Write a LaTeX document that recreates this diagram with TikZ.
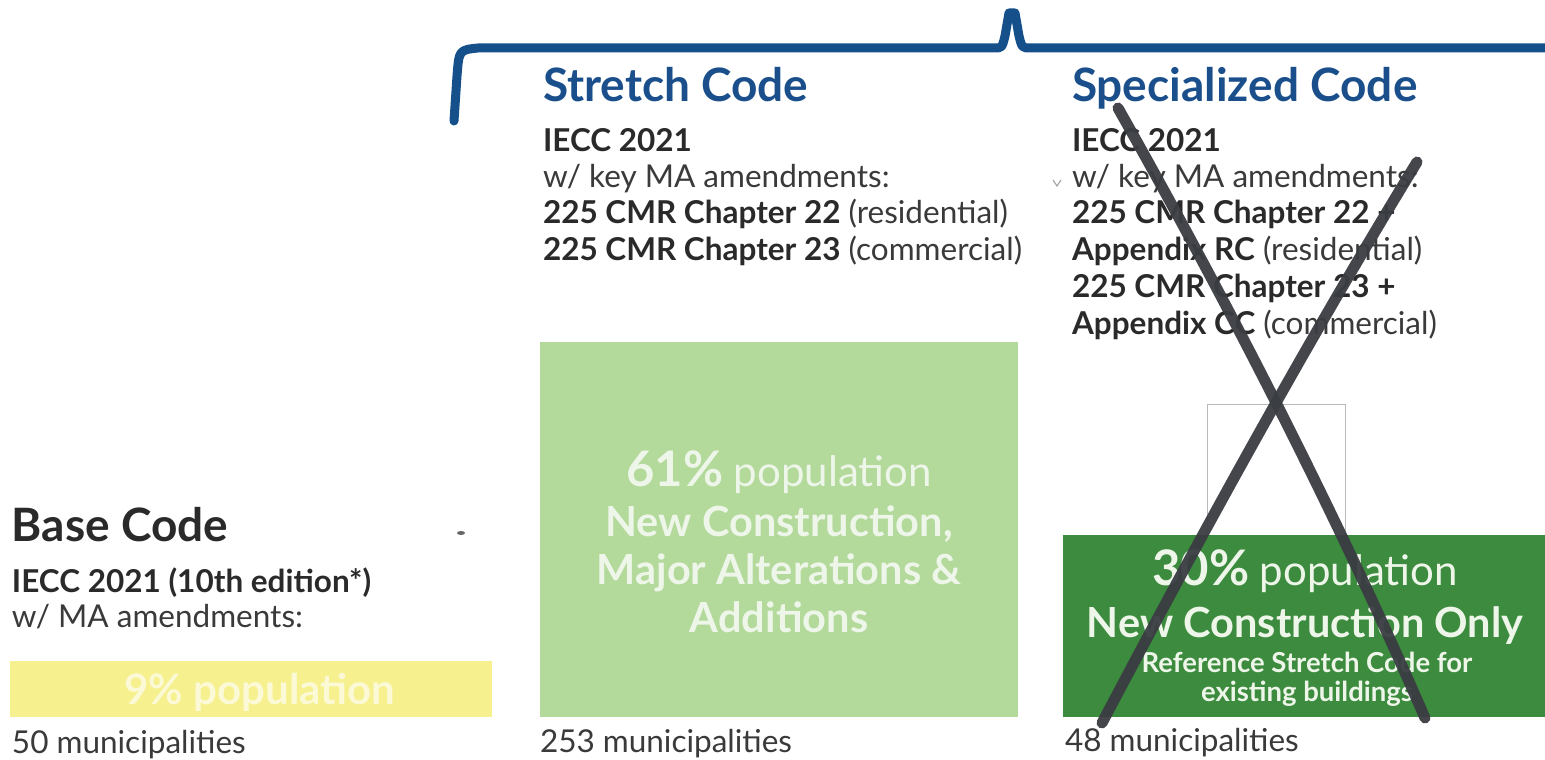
\documentclass[tikz,border=0pt]{standalone}
\usepackage{fontspec}
\setmainfont{Lato}
\definecolor{braceblue}{HTML}{15508A}
\definecolor{headblue}{HTML}{1A4F8B}
\definecolor{ink}{HTML}{2A2A2A}
\definecolor{inkreg}{HTML}{3A3A3A}
\definecolor{stretchgreen}{HTML}{B3D99B}
\definecolor{specgreen}{HTML}{3C8B3E}
\definecolor{baseyellow}{HTML}{F6F18E}
\definecolor{boxtext}{HTML}{EEF6EA}
\definecolor{yellowtext}{HTML}{FCF9D6}
\definecolor{crossgray}{HTML}{3A3D42}
\begin{document}
\begin{tikzpicture}[x=1pt,y=-1pt,
  every node/.style={inner sep=0pt,outer sep=0pt},
  heading/.style={anchor=base west,font=\fontsize{46}{46}\selectfont\bfseries},
  boldline/.style={anchor=base west,text=ink,font=\fontsize{31.5}{31.5}\selectfont\bfseries},
  regline/.style={anchor=base west,text=inkreg,font=\fontsize{31.5}{31.5}\selectfont},
  barbox/.style={anchor=north west,minimum width=#1},
  inbox/.style={anchor=base,text=boxtext},
  bigbold/.style={inbox,font=\fontsize{41.5}{41.5}\selectfont\bfseries},
  smallbold/.style={inbox,font=\fontsize{27.5}{27.5}\selectfont\bfseries},
  bracepath/.style={draw=braceblue,line width=9pt,line join=round,line cap=round},
  crossstroke/.style={draw=crossgray,line width=11pt,line cap=round,opacity=0.95}]
\useasboundingbox (0,0) rectangle (1545,760);
\fill[white] (0,0) rectangle (1545,760);

% brace over the two optional codes
\draw[bracepath] (454,121) -- (457,76) .. controls (459,50) .. (478,48)
  -- (994,48) .. controls (1002,48) .. (1005,36) -- (1009,13) -- (1015,13)
  -- (1019,36) .. controls (1022,48) .. (1031,48) -- (1550,48);

% ---------- Base Code ----------
\node[heading,text=ink] (basehead) at (12,541) {Base Code};
\node[boldline] (baseiecc) at (12,592) {IECC 2021 (10th edition*)};
\node[regline] (baseamend) at (12,627) {w/ MA amendments:};
\node[barbox=482,minimum height=56,fill=baseyellow] (basebox) at (10,661) {};
\node[anchor=base,text=yellowtext,font=\fontsize{42}{42}\selectfont\bfseries] (basepct) at (260,704) {9\% population};
\node[regline] (basemuni) at (12,753) {50 municipalities};

% ---------- Stretch Code ----------
\node[heading,text=headblue] (strhead) at (543,101) {Stretch Code};
\node[boldline] (striecc) at (543,151) {IECC 2021};
\node[regline] (stramend) at (543,187) {w/ key MA amendments:};
\node[regline] (strres) at (543,223) {\textbf{\color{ink}225 CMR Chapter 22} (residential)};
\node[regline] (strcom) at (543,260) {\textbf{\color{ink}225 CMR Chapter 23} (commercial)};
\node[barbox=478,minimum height=375,fill=stretchgreen] (strbox) at (540,342) {};
\node[inbox,font=\fontsize{42}{42}\selectfont] (strpct) at (779,486) {{\fontsize{49}{49}\selectfont\bfseries 61\%} population};
\node[bigbold] (strl1) at (779,536) {New Construction,};
\node[bigbold] (strl2) at (779,584) {Major Alterations \&};
\node[bigbold] (strl3) at (779,632) {Additions};
\node[regline] (strmuni) at (540,752) {253 municipalities};

% ---------- Specialized Code ----------
\node[heading,text=headblue] (spechead) at (1072,101) {Specialized Code};
\node[boldline] (speciecc) at (1072,151) {IECC 2021};
\node[regline] (specamend) at (1072,187) {w/ key MA amendments:};
\node[boldline] (specl1) at (1072,223) {225 CMR Chapter 22 +};
\node[regline] (specl2) at (1072,260) {\textbf{\color{ink}Appendix RC} (residential)};
\node[boldline] (specl3) at (1072,297) {225 CMR Chapter 23 +};
\node[regline] (specl4) at (1072,334) {\textbf{\color{ink}Appendix CC} (commercial)};
\node[anchor=north west,minimum width=138,minimum height=131,draw=gray!55,line width=0.8pt] (specframe) at (1207,404) {};
\node[barbox=482,minimum height=182,fill=specgreen] (specbox) at (1063,535) {};
\node[inbox,font=\fontsize{42}{42}\selectfont] (specpct) at (1305,585) {{\fontsize{49}{49}\selectfont\bfseries 30\%} population};
\node[bigbold] (specl5) at (1305,637) {New Construction Only};
\node[smallbold] (specl6) at (1307,672) {Reference Stretch Code for};
\node[smallbold] (specl7) at (1307,701) {existing buildings};
\node[regline] (specmuni) at (1065,751) {48 municipalities};

% small pen marks
\draw[gray!70,line width=1.2pt] (1053,180) -- (1057,186) -- (1061,180);
\fill[gray!80!black] (461,533) ellipse (4 and 2);

% cross drawn over the specialized column
\draw[crossstroke] (1118,108) .. controls (1231,308) and (1338,518) .. (1425,718);
\draw[crossstroke] (1417,162) .. controls (1301,352) and (1197,543) .. (1102,723);
\end{tikzpicture}
\end{document}
